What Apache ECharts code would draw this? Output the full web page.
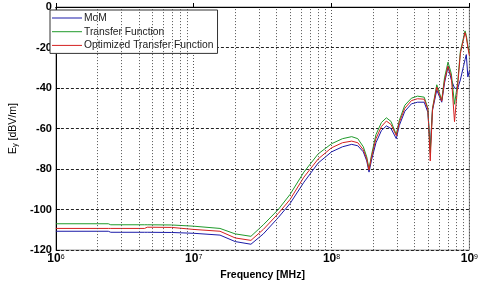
<!DOCTYPE html>
<html lang="en">
<head>
    <meta charset="utf-8">
    <title>Ey vs Frequency</title>
    <script src="https://cdn.jsdelivr.net/npm/echarts@6/dist/echarts.min.js"></script>
    <style>
        body { margin: 0; background: #fff; }
    </style>
</head>
<body>
<div id="chart" style="width: 481px;height:286px;"></div>

<script>
    // frequency points (shared by all three curves)
    let freqs = [1.0e6, 2.4e6, 2.5e6, 4.4e6, 4.6e6, 6.9e6, 7.1e6, 1.0e7, 1.55e7, 2.0e7,
        2.6e7, 3.2e7, 4.1e7, 5.0e7, 6.3e7, 8.0e7, 1.0e8, 1.2e8, 1.4e8, 1.55e8,
        1.7e8, 1.8e8, 1.87e8, 1.95e8, 2.1e8, 2.3e8, 2.5e8, 2.7e8, 2.95e8, 3.1e8,
        3.4e8, 3.8e8, 4.2e8, 4.7e8, 5.0e8, 5.2e8, 5.4e8, 5.8e8, 6.3e8, 6.6e8,
        7.0e8, 7.4e8, 7.8e8, 8.2e8, 8.6e8, 9.3e8, 9.5e8, 9.75e8, 1.0e9];

    let tf = [-107.0, -107.0, -107.5, -107.5, -107.5, -107.6, -107.9, -108.2, -109.3, -112.0,
        -113.2, -107.5, -100.0, -92.5, -81.5, -72.5, -67.5, -65.0, -64.0, -65.0,
        -69.0, -74.0, -80.0, -73.0, -63.0, -57.0, -54.7, -56.5, -63.0, -56.0,
        -48.5, -45.0, -44.0, -44.5, -50.0, -72.0, -50.0, -38.4, -45.9, -35.0,
        -27.2, -33.0, -48.0, -38.0, -22.0, -11.8, -14.0, -19.0, -23.0];

    let opt = [-109.3, -109.3, -109.3, -109.3, -108.7, -108.8, -109.3, -109.8, -110.7, -114.0,
        -115.2, -109.8, -102.0, -95.0, -84.0, -75.0, -69.5, -67.0, -66.2, -67.0,
        -70.5, -75.0, -80.5, -74.0, -65.0, -59.0, -56.3, -58.0, -63.5, -57.0,
        -50.0, -46.2, -45.3, -45.5, -50.5, -76.0, -50.5, -39.5, -46.5, -36.5,
        -29.1, -34.5, -56.6, -40.0, -23.0, -12.6, -15.0, -20.0, -24.0];

    let mom = [-110.7, -110.7, -111.2, -111.2, -111.2, -111.3, -111.4, -111.7, -112.6, -115.8,
        -117.1, -112.0, -104.0, -97.0, -86.5, -77.0, -71.5, -69.0, -67.8, -68.5,
        -71.5, -76.0, -81.5, -75.5, -67.0, -61.0, -58.7, -60.0, -65.0, -58.5,
        -51.5, -47.8, -47.0, -47.0, -52.0, -70.0, -51.0, -41.0, -47.0, -37.5,
        -29.6, -36.0, -40.0, -40.5, -36.0, -26.0, -23.5, -34.5, -31.5];

    let seriesNames = ['MoM', 'Transfer Function', 'Optimized Transfer Function'];
    let seriesColors = ['#1a1aa8', '#1f9a2a', '#d42020'];

    // minor grid lines 2..9 x 10^n
    let minorFreqs = [];
    for (let n = 6; n < 9; n++) {
        for (let k = 2; k <= 9; k++) {
            minorFreqs.push(k * Math.pow(10, n));
        }
    }

    function pairs(ys) {
        let out = [];
        for (let i = 0; i < freqs.length; i++) {
            out.push([freqs[i], ys[i]]);
        }
        return out;
    }

    let myChart = echarts.init(document.getElementById('chart'));

    let curveStyle = function (idx, ys) {
        return {
            name: seriesNames[idx],
            type: 'line',
            data: pairs(ys),
            showSymbol: false,
            symbol: 'none',
            z: 3,
            lineStyle: {width: 1, color: seriesColors[idx]},
            itemStyle: {color: seriesColors[idx]}
        };
    };

    let option = {
        animation: false,
        textStyle: {fontFamily: 'Liberation Sans, Arial, sans-serif'},
        grid: {
            left: 45, right: 11, top: 7, bottom: 30,
            show: true,
            borderColor: '#8a8a8a',
            borderWidth: 1
        },
        legend: {
            data: seriesNames,
            orient: 'vertical',
            left: 50,
            top: 10,
            icon: 'rect',
            itemWidth: 30,
            itemHeight: 1,
            itemGap: 1.7,
            padding: [2, 4, 2, 2],
            borderColor: '#333',
            borderWidth: 1,
            backgroundColor: '#fff',
            textStyle: {fontSize: 10.3, color: '#222', lineHeight: 12, padding: [0, 0, 0, -3]}
        },
        xAxis: {
            type: 'log',
            logBase: 10,
            min: 1e6,
            max: 1e9,
            name: 'Frequency [MHz]',
            nameLocation: 'middle',
            nameGap: 19,
            nameTextStyle: {fontSize: 10.5, fontWeight: 'bold', color: '#000'},
            axisLine: {lineStyle: {color: '#000', width: 1}},
            axisTick: {inside: true, length: 4, lineStyle: {color: '#000'}},
            splitLine: {show: true, lineStyle: {type: [1, 2], color: '#555', width: 1}},
            axisLabel: {
                margin: 3,
                color: '#000',
                formatter: function (v) {
                    return '{b|10}{e|' + Math.round(Math.log10(v)) + '}';
                },
                rich: {
                    b: {fontSize: 12, fontWeight: 'bold', color: '#000'},
                    e: {fontSize: 7, color: '#000', verticalAlign: 'top'}
                }
            }
        },
        yAxis: {
            type: 'value',
            min: -120,
            max: 0,
            interval: 20,
            name: '{a|E}{s|y}{a| [dBV/m]}',
            nameLocation: 'middle',
            nameRotate: 90,
            nameGap: 28,
            nameTextStyle: {
                padding: [0, 0, 0, 0],
                rich: {
                    a: {fontSize: 10.5, color: '#000'},
                    s: {fontSize: 7.5, color: '#000', verticalAlign: 'bottom'}
                }
            },
            axisLine: {show: true, lineStyle: {color: '#000', width: 1}},
            axisTick: {inside: true, length: 4, lineStyle: {color: '#000'}},
            splitLine: {show: true, lineStyle: {type: [3, 2], color: '#222', width: 1}},
            axisLabel: {fontSize: 11, fontWeight: 'bold', color: '#000', margin: 4}
        },
        series: [
            {
                name: 'grid',
                type: 'line',
                data: [],
                z: 1,
                silent: true,
                markLine: {
                    silent: true,
                    symbol: ['none', 'none'],
                    label: {show: false},
                    lineStyle: {type: [1, 2], color: '#555', width: 1},
                    data: minorFreqs.map(function (f) { return {xAxis: f}; })
                }
            },
            curveStyle(0, mom),
            curveStyle(1, tf),
            curveStyle(2, opt)
        ]
    };
    myChart.setOption(option);
</script>
</body>
</html>
